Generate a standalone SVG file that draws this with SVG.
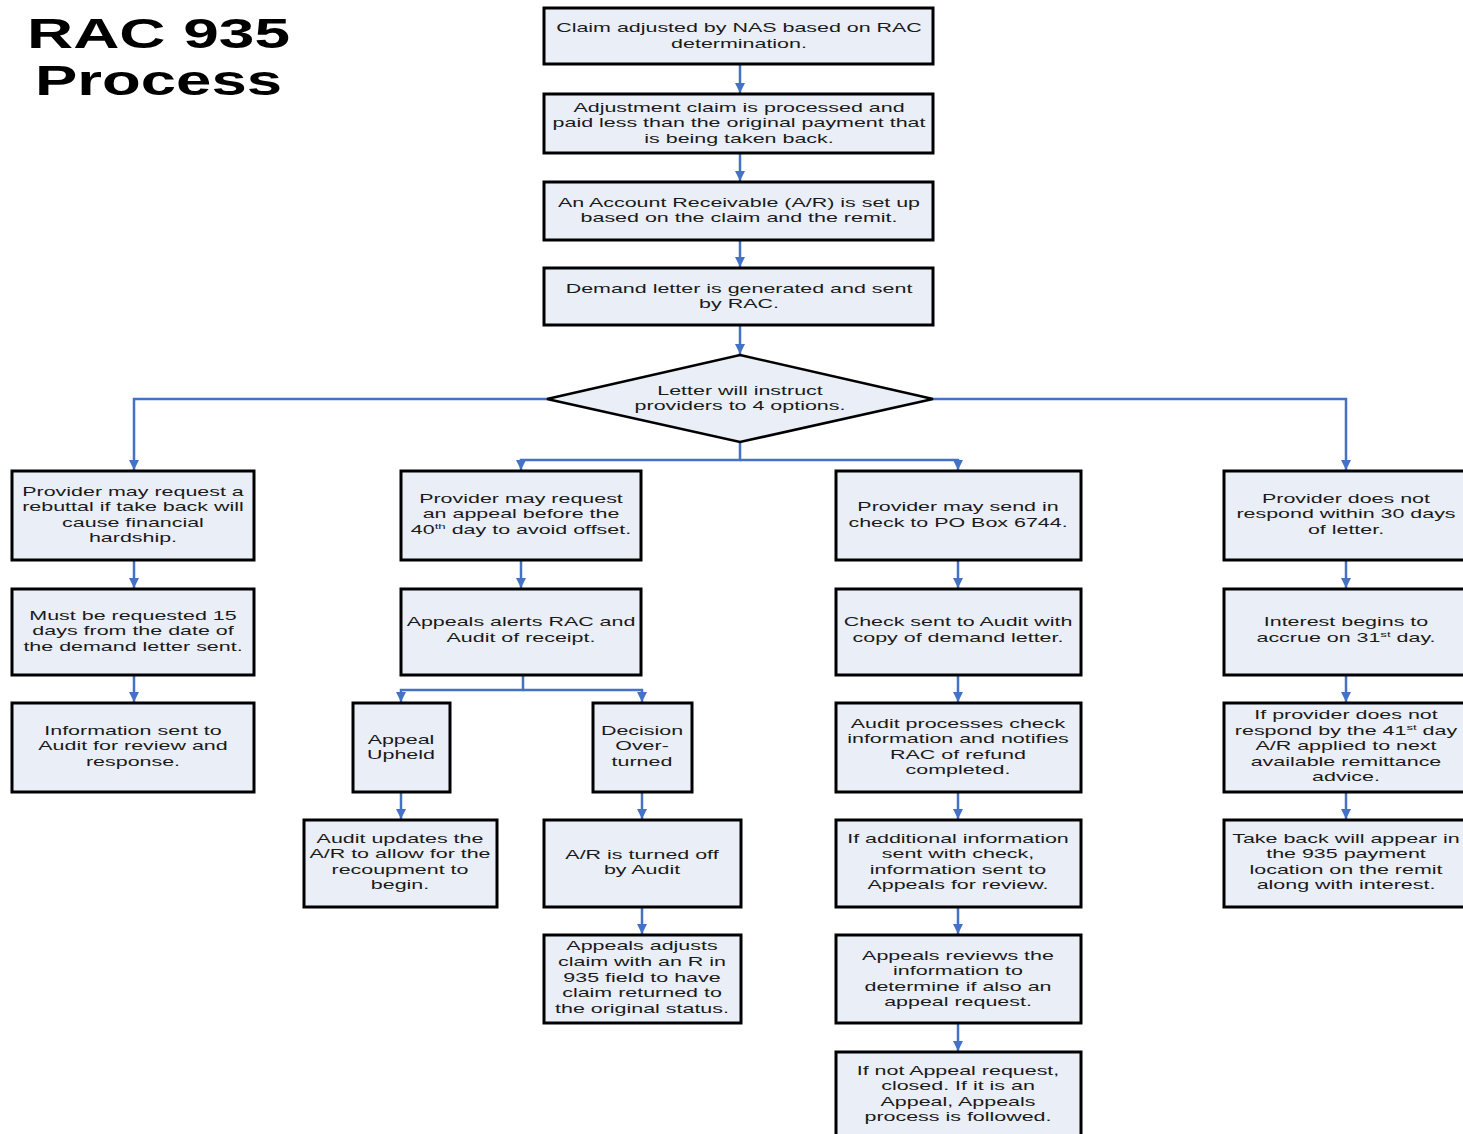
<svg xmlns="http://www.w3.org/2000/svg" width="1463" height="1134" viewBox="0 0 1463 1134">
<style>
.box{fill:#e9eef7;stroke:#000;stroke-width:3}
.t{font-family:"Liberation Sans",Arial,sans-serif;font-size:13px;fill:#1a1a1a;text-anchor:middle}
.title{font-family:"Liberation Sans",Arial,sans-serif;font-size:42px;font-weight:bold;fill:#000}
.c{fill:none;stroke:#4472c4;stroke-width:2.5}
.sup{font-size:8px}
</style>
<defs>
<marker id="ah" viewBox="0 0 10 10" refX="10" refY="5" markerWidth="4" markerHeight="4" orient="auto" markerUnits="strokeWidth">
<path d="M0,0 L10,5 L0,10 z" fill="#4472c4"/>
</marker>
</defs>
<rect width="1463" height="1134" fill="#fff"/>
<g id="title">
<text class="title" x="27" y="48" textLength="263" lengthAdjust="spacingAndGlyphs">RAC 935</text>
<text class="title" x="35" y="95" textLength="247" lengthAdjust="spacingAndGlyphs">Process</text>
</g>
<g id="connectors">
<path class="c" d="M740,64 V93" marker-end="url(#ah)"/>
<path class="c" d="M740,153 V181" marker-end="url(#ah)"/>
<path class="c" d="M740,240 V267" marker-end="url(#ah)"/>
<path class="c" d="M740,325 V354" marker-end="url(#ah)"/>
<path class="c" d="M547,399 H134 V470" marker-end="url(#ah)"/>
<path class="c" d="M933,399 H1346 V470" marker-end="url(#ah)"/>
<path class="c" d="M740,442 V460 H521 V470" marker-end="url(#ah)"/>
<path class="c" d="M740,460 H958 V470" marker-end="url(#ah)"/>
<path class="c" d="M134,560 V588" marker-end="url(#ah)"/>
<path class="c" d="M134,675 V702" marker-end="url(#ah)"/>
<path class="c" d="M521,560 V588" marker-end="url(#ah)"/>
<path class="c" d="M523,675 V690 H401 V702" marker-end="url(#ah)"/>
<path class="c" d="M523,690 H642 V702" marker-end="url(#ah)"/>
<path class="c" d="M401,792 V819" marker-end="url(#ah)"/>
<path class="c" d="M642,792 V819" marker-end="url(#ah)"/>
<path class="c" d="M642,907 V934" marker-end="url(#ah)"/>
<path class="c" d="M958,560 V588" marker-end="url(#ah)"/>
<path class="c" d="M958,675 V702" marker-end="url(#ah)"/>
<path class="c" d="M958,792 V819" marker-end="url(#ah)"/>
<path class="c" d="M958,907 V934" marker-end="url(#ah)"/>
<path class="c" d="M958,1023 V1051" marker-end="url(#ah)"/>
<path class="c" d="M1346,560 V588" marker-end="url(#ah)"/>
<path class="c" d="M1346,675 V702" marker-end="url(#ah)"/>
<path class="c" d="M1346,792 V819" marker-end="url(#ah)"/>
</g>
<g id="n1"><rect class="box" x="544" y="8" width="389" height="56"/>
<text class="t" transform="translate(739,0) scale(1.65,1)"><tspan x="0" y="32">Claim adjusted by NAS based on RAC</tspan><tspan x="0" y="48">determination.</tspan></text></g>
<g id="n2"><rect class="box" x="544" y="94" width="389" height="59"/>
<text class="t" transform="translate(739,0) scale(1.65,1)"><tspan x="0" y="112">Adjustment claim is processed and</tspan><tspan x="0" y="127">paid less than the original payment that</tspan><tspan x="0" y="143">is being taken back.</tspan></text></g>
<g id="n3"><rect class="box" x="544" y="182" width="389" height="58"/>
<text class="t" transform="translate(739,0) scale(1.65,1)"><tspan x="0" y="207">An Account Receivable (A/R) is set up</tspan><tspan x="0" y="222">based on the claim and the remit.</tspan></text></g>
<g id="n4"><rect class="box" x="544" y="268" width="389" height="57"/>
<text class="t" transform="translate(739,0) scale(1.65,1)"><tspan x="0" y="293">Demand letter is generated and sent</tspan><tspan x="0" y="308">by RAC.</tspan></text></g>
<g id="n5"><path d="M740,355 L933,399 L740,442 L547,399 z" fill="#e9eef7" stroke="#000" stroke-width="2.5"/>
<text class="t" transform="translate(740,0) scale(1.65,1)"><tspan x="0" y="395">Letter will instruct</tspan><tspan x="0" y="410">providers to 4 options.</tspan></text></g>
<g id="a1"><rect class="box" x="12" y="471" width="242" height="89"/>
<text class="t" transform="translate(133,0) scale(1.65,1)"><tspan x="0" y="496">Provider may request a</tspan><tspan x="0" y="511">rebuttal if take back will</tspan><tspan x="0" y="527">cause financial</tspan><tspan x="0" y="542">hardship.</tspan></text></g>
<g id="a2"><rect class="box" x="12" y="589" width="242" height="86"/>
<text class="t" transform="translate(133,0) scale(1.65,1)"><tspan x="0" y="620">Must be requested 15</tspan><tspan x="0" y="635">days from the date of</tspan><tspan x="0" y="651">the demand letter sent.</tspan></text></g>
<g id="a3"><rect class="box" x="12" y="703" width="242" height="89"/>
<text class="t" transform="translate(133,0) scale(1.65,1)"><tspan x="0" y="735">Information sent to</tspan><tspan x="0" y="750">Audit for review and</tspan><tspan x="0" y="766">response.</tspan></text></g>
<g id="b1"><rect class="box" x="401" y="471" width="240" height="89"/>
<text class="t" transform="translate(521,0) scale(1.65,1)"><tspan x="0" y="503">Provider may request</tspan><tspan x="0" y="518">an appeal before the</tspan><tspan x="0" y="534">40<tspan class="sup" dy="-5">th</tspan><tspan dy="5"> day to avoid offset.</tspan></tspan></text></g>
<g id="b2"><rect class="box" x="401" y="589" width="240" height="86"/>
<text class="t" transform="translate(521,0) scale(1.65,1)"><tspan x="0" y="626">Appeals alerts RAC and</tspan><tspan x="0" y="642">Audit of receipt.</tspan></text></g>
<g id="b3"><rect class="box" x="353" y="703" width="97" height="89"/>
<text class="t" transform="translate(401,0) scale(1.65,1)"><tspan x="0" y="744">Appeal</tspan><tspan x="0" y="759">Upheld</tspan></text></g>
<g id="b4"><rect class="box" x="593" y="703" width="99" height="89"/>
<text class="t" transform="translate(642,0) scale(1.65,1)"><tspan x="0" y="735">Decision</tspan><tspan x="0" y="750">Over-</tspan><tspan x="0" y="766">turned</tspan></text></g>
<g id="b5"><rect class="box" x="304" y="820" width="193" height="87"/>
<text class="t" transform="translate(400,0) scale(1.65,1)"><tspan x="0" y="843">Audit updates the</tspan><tspan x="0" y="858">A/R to allow for the</tspan><tspan x="0" y="874">recoupment to</tspan><tspan x="0" y="889">begin.</tspan></text></g>
<g id="b6"><rect class="box" x="544" y="820" width="197" height="87"/>
<text class="t" transform="translate(642,0) scale(1.65,1)"><tspan x="0" y="859">A/R is turned off</tspan><tspan x="0" y="874">by Audit</tspan></text></g>
<g id="b7"><rect class="box" x="544" y="935" width="197" height="88"/>
<text class="t" transform="translate(642,0) scale(1.65,1)"><tspan x="0" y="950">Appeals adjusts</tspan><tspan x="0" y="966">claim with an R in</tspan><tspan x="0" y="982">935 field to have</tspan><tspan x="0" y="997">claim returned to</tspan><tspan x="0" y="1013">the original status.</tspan></text></g>
<g id="c1"><rect class="box" x="836" y="471" width="245" height="89"/>
<text class="t" transform="translate(958,0) scale(1.65,1)"><tspan x="0" y="511">Provider may send in</tspan><tspan x="0" y="527">check to PO Box 6744.</tspan></text></g>
<g id="c2"><rect class="box" x="836" y="589" width="245" height="86"/>
<text class="t" transform="translate(958,0) scale(1.65,1)"><tspan x="0" y="626">Check sent to Audit with</tspan><tspan x="0" y="642">copy of demand letter.</tspan></text></g>
<g id="c3"><rect class="box" x="836" y="703" width="245" height="89"/>
<text class="t" transform="translate(958,0) scale(1.65,1)"><tspan x="0" y="728">Audit processes check</tspan><tspan x="0" y="743">information and notifies</tspan><tspan x="0" y="759">RAC of refund</tspan><tspan x="0" y="774">completed.</tspan></text></g>
<g id="c4"><rect class="box" x="836" y="820" width="245" height="87"/>
<text class="t" transform="translate(958,0) scale(1.65,1)"><tspan x="0" y="843">If additional information</tspan><tspan x="0" y="858">sent with check,</tspan><tspan x="0" y="874">information sent to</tspan><tspan x="0" y="889">Appeals for review.</tspan></text></g>
<g id="c5"><rect class="box" x="836" y="935" width="245" height="88"/>
<text class="t" transform="translate(958,0) scale(1.65,1)"><tspan x="0" y="960">Appeals reviews the</tspan><tspan x="0" y="975">information to</tspan><tspan x="0" y="991">determine if also an</tspan><tspan x="0" y="1006">appeal request.</tspan></text></g>
<g id="c6"><rect class="box" x="836" y="1052" width="245" height="90"/>
<text class="t" transform="translate(958,0) scale(1.65,1)"><tspan x="0" y="1075">If not Appeal request,</tspan><tspan x="0" y="1090">closed.  If it is  an</tspan><tspan x="0" y="1106">Appeal, Appeals</tspan><tspan x="0" y="1121">process is followed.</tspan></text></g>
<g id="d1"><rect class="box" x="1224" y="471" width="245" height="89"/>
<text class="t" transform="translate(1346,0) scale(1.65,1)"><tspan x="0" y="503">Provider does not</tspan><tspan x="0" y="518">respond within 30 days</tspan><tspan x="0" y="534">of letter.</tspan></text></g>
<g id="d2"><rect class="box" x="1224" y="589" width="245" height="86"/>
<text class="t" transform="translate(1346,0) scale(1.65,1)"><tspan x="0" y="626">Interest begins to</tspan><tspan x="0" y="642">accrue on 31<tspan class="sup" dy="-5">st</tspan><tspan dy="5"> day.</tspan></tspan></text></g>
<g id="d3"><rect class="box" x="1224" y="703" width="245" height="89"/>
<text class="t" transform="translate(1346,0) scale(1.65,1)"><tspan x="0" y="719">If provider does not</tspan><tspan x="0" y="735">respond by the 41<tspan class="sup" dy="-5">st</tspan><tspan dy="5"> day</tspan></tspan><tspan x="0" y="750">A/R applied to next</tspan><tspan x="0" y="766">available remittance</tspan><tspan x="0" y="781">advice.</tspan></text></g>
<g id="d4"><rect class="box" x="1224" y="820" width="245" height="87"/>
<text class="t" transform="translate(1346,0) scale(1.65,1)"><tspan x="0" y="843">Take back will appear in</tspan><tspan x="0" y="858">the 935 payment</tspan><tspan x="0" y="874">location on the remit</tspan><tspan x="0" y="889">along with interest.</tspan></text></g>
</svg>
